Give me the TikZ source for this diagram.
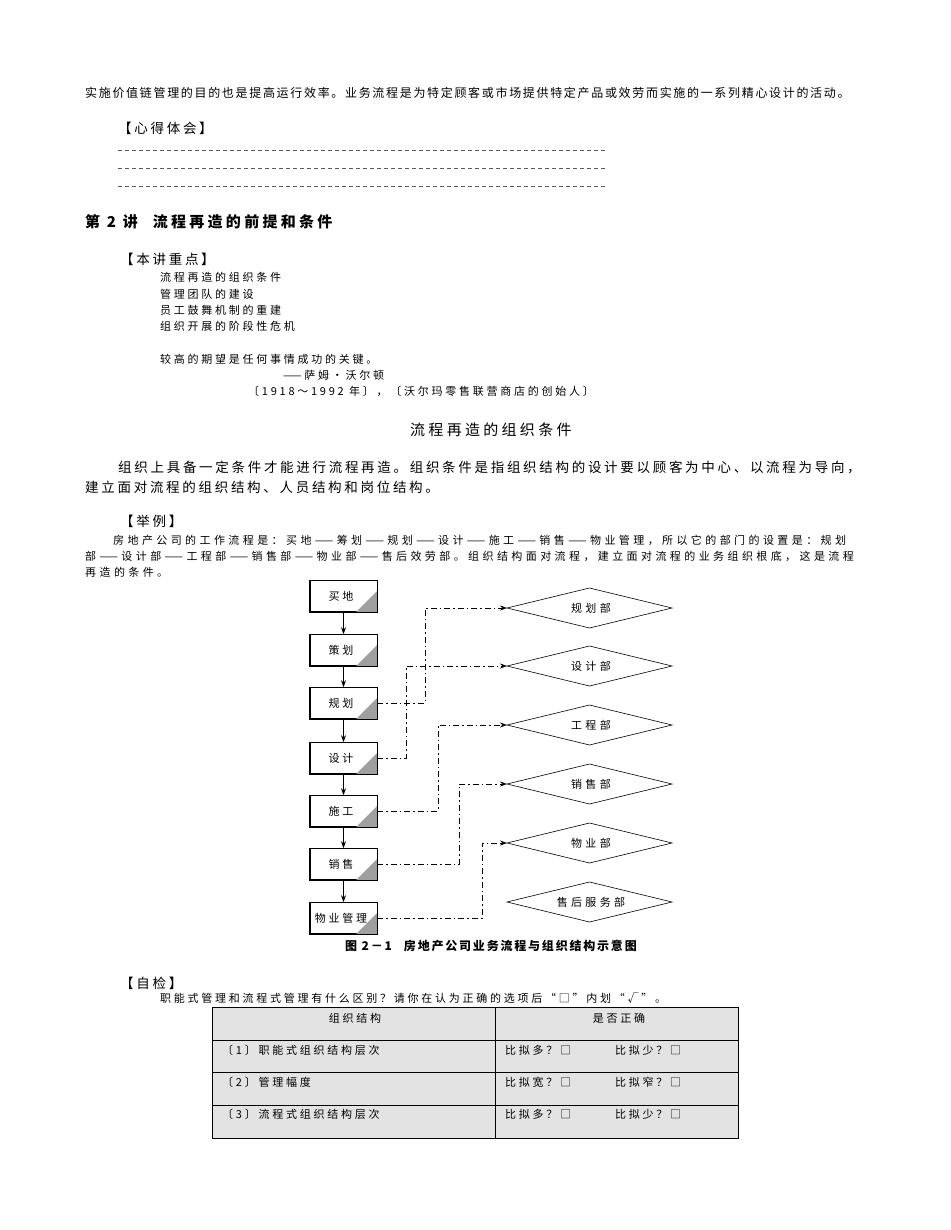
\documentclass[tikz,border=0pt]{standalone}
\usepackage{fontspec}
\setmainfont{Noto Sans CJK SC}
\usetikzlibrary{arrows.meta}
\newcommand\lsp[1]{\addfontfeature{LetterSpace=#1}}
\tikzset{
  t/.style={anchor=west,inner sep=0pt,font=\fontsize{12}{14}\selectfont\lsp{14}},
  ts/.style={anchor=west,inner sep=0pt,font=\fontsize{11}{13}\selectfont\lsp{25}},
  tw/.style={anchor=west,inner sep=0pt,font=\fontsize{11}{13}\selectfont\lsp{31}},
  tm/.style={anchor=west,inner sep=0pt,font=\fontsize{13.5}{16}\selectfont\lsp{20}},
  proc/.style={draw,line width=0.6pt,minimum width=67pt,minimum height=31pt,inner sep=0pt},
  flow/.style={-{Stealth[length=7pt,width=5pt]},line width=0.7pt},
  link/.style={-{Stealth[length=7pt,width=5pt]},line width=0.6pt,dash pattern=on 6pt off 3pt on 1.5pt off 3pt},
  dashline/.style={line width=0.5pt,dash pattern=on 4pt off 3pt,gray!70!black}
}
\begin{document}
\begin{tikzpicture}[x=1pt,y=-1pt]
\useasboundingbox (0,0) rectangle (950,1230);
\fill[white] (0,0) rectangle (950,1230);
\node[t] (l1) at (85,93) {实施价值链管理的目的也是提高运行效率。业务流程是为特定顾客或市场提供特定产品或效劳而实施的一系列精心设计的活动。};
\node[tm] (xd) at (118,128) {【心得体会】};
\draw[dashline] (118,150) -- (605,150);
\draw[dashline] (118,168) -- (605,168);
\draw[dashline] (118,186) -- (605,186);
\node[anchor=west,inner sep=0pt,font=\fontsize{15}{17}\selectfont\bfseries\lsp{22}] (h2) at (85,222) {第 2 讲\quad 流程再造的前提和条件};
\node[tm] (zd) at (120,259) {【本讲重点】};
\node[ts] (i1) at (160,277) {流程再造的组织条件};
\node[ts] (i2) at (160,294) {管理团队的建设};
\node[ts] (i3) at (160,310) {员工鼓舞机制的重建};
\node[ts] (i4) at (160,326) {组织开展的阶段性危机};
\node[ts] (q1) at (160,359) {较高的期望是任何事情成功的关键。};
\node[ts] (q2) at (283,375) {——萨姆·沃尔顿};
\node[ts] (q3) at (248,391) {〔1918～1992 年〕，〔沃尔玛零售联营商店的创始人〕};
\node[anchor=west,inner sep=0pt,font=\fontsize{15}{17}\selectfont\lsp{22}] (title) at (410,430) {流程再造的组织条件};
\node[tm] (p1) at (118,467) {组织上具备一定条件才能进行流程再造。组织条件是指组织结构的设计要以顾客为中心、以流程为导向，};
\node[tm] (p2) at (85,487) {建立面对流程的组织结构、人员结构和岗位结构。};
\node[tm] (jl) at (120,521) {【举例】};
\node[tw] (e1) at (113,540) {房地产公司的工作流程是：买地——筹划——规划——设计——施工——销售——物业管理，所以它的部门的设置是：规划};
\node[tw] (e2) at (85,556) {部——设计部——工程部——销售部——物业部——售后效劳部。组织结构面对流程，建立面对流程的业务组织根底，这是流程};
\node[tw] (e3) at (85,572) {再造的条件。};
\foreach \n/\y/\s in {b1/596/买地,b2/650/策划,b3/703/规划,b4/758/设计,b5/811/施工,b6/864/销售,b7/918/物业管理}{
  \node[proc] (\n) at (343.5,\y) {};
  \fill[gray!75] (\n.south east) -- ++(-21,0) -- ++(21,-21) -- cycle;
  \draw[line width=0.6pt] (\n.south west) rectangle (\n.north east);
  \node[font=\fontsize{11}{13}\selectfont\lsp{25}] (\n t) at (341,\y) {\s};
}
\foreach \a/\b in {b1/b2,b2/b3,b3/b4,b4/b5,b5/b6,b6/b7}{\draw[flow] (\a) -- (\b);}
\foreach \n/\y/\s in {d1/608/规划部,d2/666/设计部,d3/725/工程部,d4/784/销售部,d5/843/物业部,d6/902/售后服务部}{
  \draw[line width=0.6pt] (507,\y) coordinate (\n w) -- (589.5,\y-20) -- (672,\y) -- (589.5,\y+20) -- cycle;
  \node[font=\fontsize{11}{13}\selectfont\lsp{30}] (\n t) at (591,\y) {\s};
}
\draw[link] (b3.east) -| (425,608) -- (d1w);
\draw[link] (b4.east) -| (406,666) -- (d2w);
\draw[link] (b5.east) -| (438,725) -- (d3w);
\draw[link] (b6.east) -| (459,784) -- (d4w);
\draw[link] (b7.east) -| (482,843) -- (d5w);
\node[anchor=west,inner sep=0pt,font=\fontsize{12}{14}\selectfont\bfseries\lsp{15}] (cap) at (345,946) {图 2－1\quad 房地产公司业务流程与组织结构示意图};
\node[tm] (zj) at (120,983) {【自检】};
\node[ts] (zq) at (160,998) {职能式管理和流程式管理有什么区别？请你在认为正确的选项后“□”内划“√”。};
\fill[gray!22] (212,1007) rectangle (738,1138);
\draw[line width=0.6pt] (212,1007) rectangle (738,1138);
\foreach \y in {1040,1072,1105}{\draw[line width=0.6pt] (212,\y) -- (738,\y);}
\draw[line width=0.6pt] (495,1007) -- (495,1138);
\node[ts,anchor=center] (h1) at (355,1018) {组织结构};
\node[ts,anchor=center] (h2b) at (619,1018) {是否正确};
\node[ts] (r1) at (222,1050) {〔1〕职能式组织结构层次};
\node[ts] (r2) at (222,1082) {〔2〕管理幅度};
\node[ts] (r3) at (222,1114) {〔3〕流程式组织结构层次};
\node[ts] (r1a) at (505,1050) {比拟多？□};
\node[ts] (r1b) at (615,1050) {比拟少？□};
\node[ts] (r2a) at (505,1082) {比拟宽？□};
\node[ts] (r2b) at (615,1082) {比拟窄？□};
\node[ts] (r3a) at (505,1114) {比拟多？□};
\node[ts] (r3b) at (615,1114) {比拟少？□};
\end{tikzpicture}
\end{document}
